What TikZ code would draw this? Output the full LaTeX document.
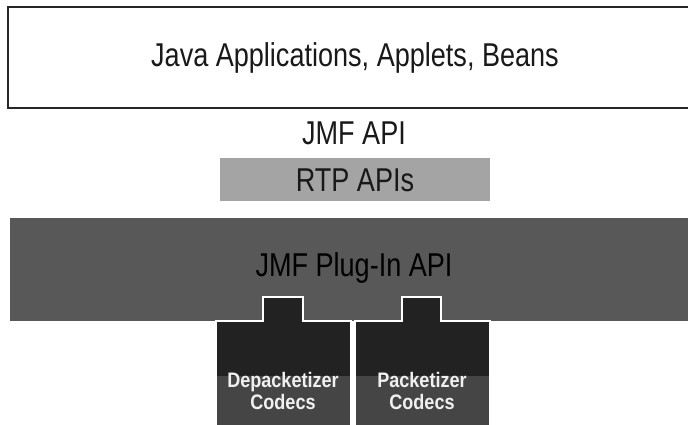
\documentclass[tikz,border=0pt]{standalone}
\usepackage{fontspec}
\setmainfont{Liberation Sans}[FakeStretch=0.82]
\newfontfamily\codecfont{Liberation Sans}[FakeStretch=0.86]
\usetikzlibrary{positioning}

\definecolor{rtpgray}{HTML}{A4A4A4}
\definecolor{bargray}{HTML}{585858}
\definecolor{codecdark}{HTML}{222222}

\begin{document}
\begin{tikzpicture}[x=1pt, y=-1pt, line join=miter,
    layertext/.style={font=\fontsize{33}{36}\selectfont, inner sep=0pt, text=black!90},
    codectext/.style={font=\codecfont\bfseries\fontsize{21}{22}\selectfont, text=white!94!black,
      align=center, inner sep=0pt}]

  \useasboundingbox (0,0) rectangle (688,425);
  \clip (0,0) rectangle (688,425);
  \fill[white] (0,0) rectangle (688,425);

  %% ---- applications layer (open box, runs off the right edge) ----
  \draw[black!85, line width=1.4pt] (8,7) rectangle (720,108);
  \node[layertext] (apps) at (355,58) {Java Applications, Applets, Beans};

  %% ---- JMF API + RTP APIs ----
  \node[layertext] (jmfapi) at (354,133) {JMF API};
  \fill[rtpgray] (220,158) rectangle (490,201);
  \node[layertext] (rtp) at (355,180) {RTP APIs};

  %% ---- plug-in layer ----
  \fill[bargray] (10,218) rectangle (720,321);
  \node[layertext, text=black] (plugin) at (354,268) {JMF Plug-In API};

  %% ---- codec blocks with their plug tabs ----
  \filldraw[codecdark, draw=white, line width=2pt]
    (216,440) -- (216,321) -- (263,321) -- (263,297) -- (303,297)
    -- (303,321) -- (351,321) -- (351,440) -- cycle;
  \filldraw[codecdark, draw=white, line width=2pt]
    (355,440) -- (355,321) -- (402,321) -- (402,297) -- (441,297)
    -- (441,321) -- (490,321) -- (490,440) -- cycle;

  %% ---- lighter band at the foot ----
  \fill[white, opacity=0.16] (0,376) rectangle (688,425);

  \node[codectext] (depack) at (283,391) {Depacketizer\\Codecs};
  \node[codectext] (pack)   at (422,391) {Packetizer\\Codecs};

\end{tikzpicture}
\end{document}
